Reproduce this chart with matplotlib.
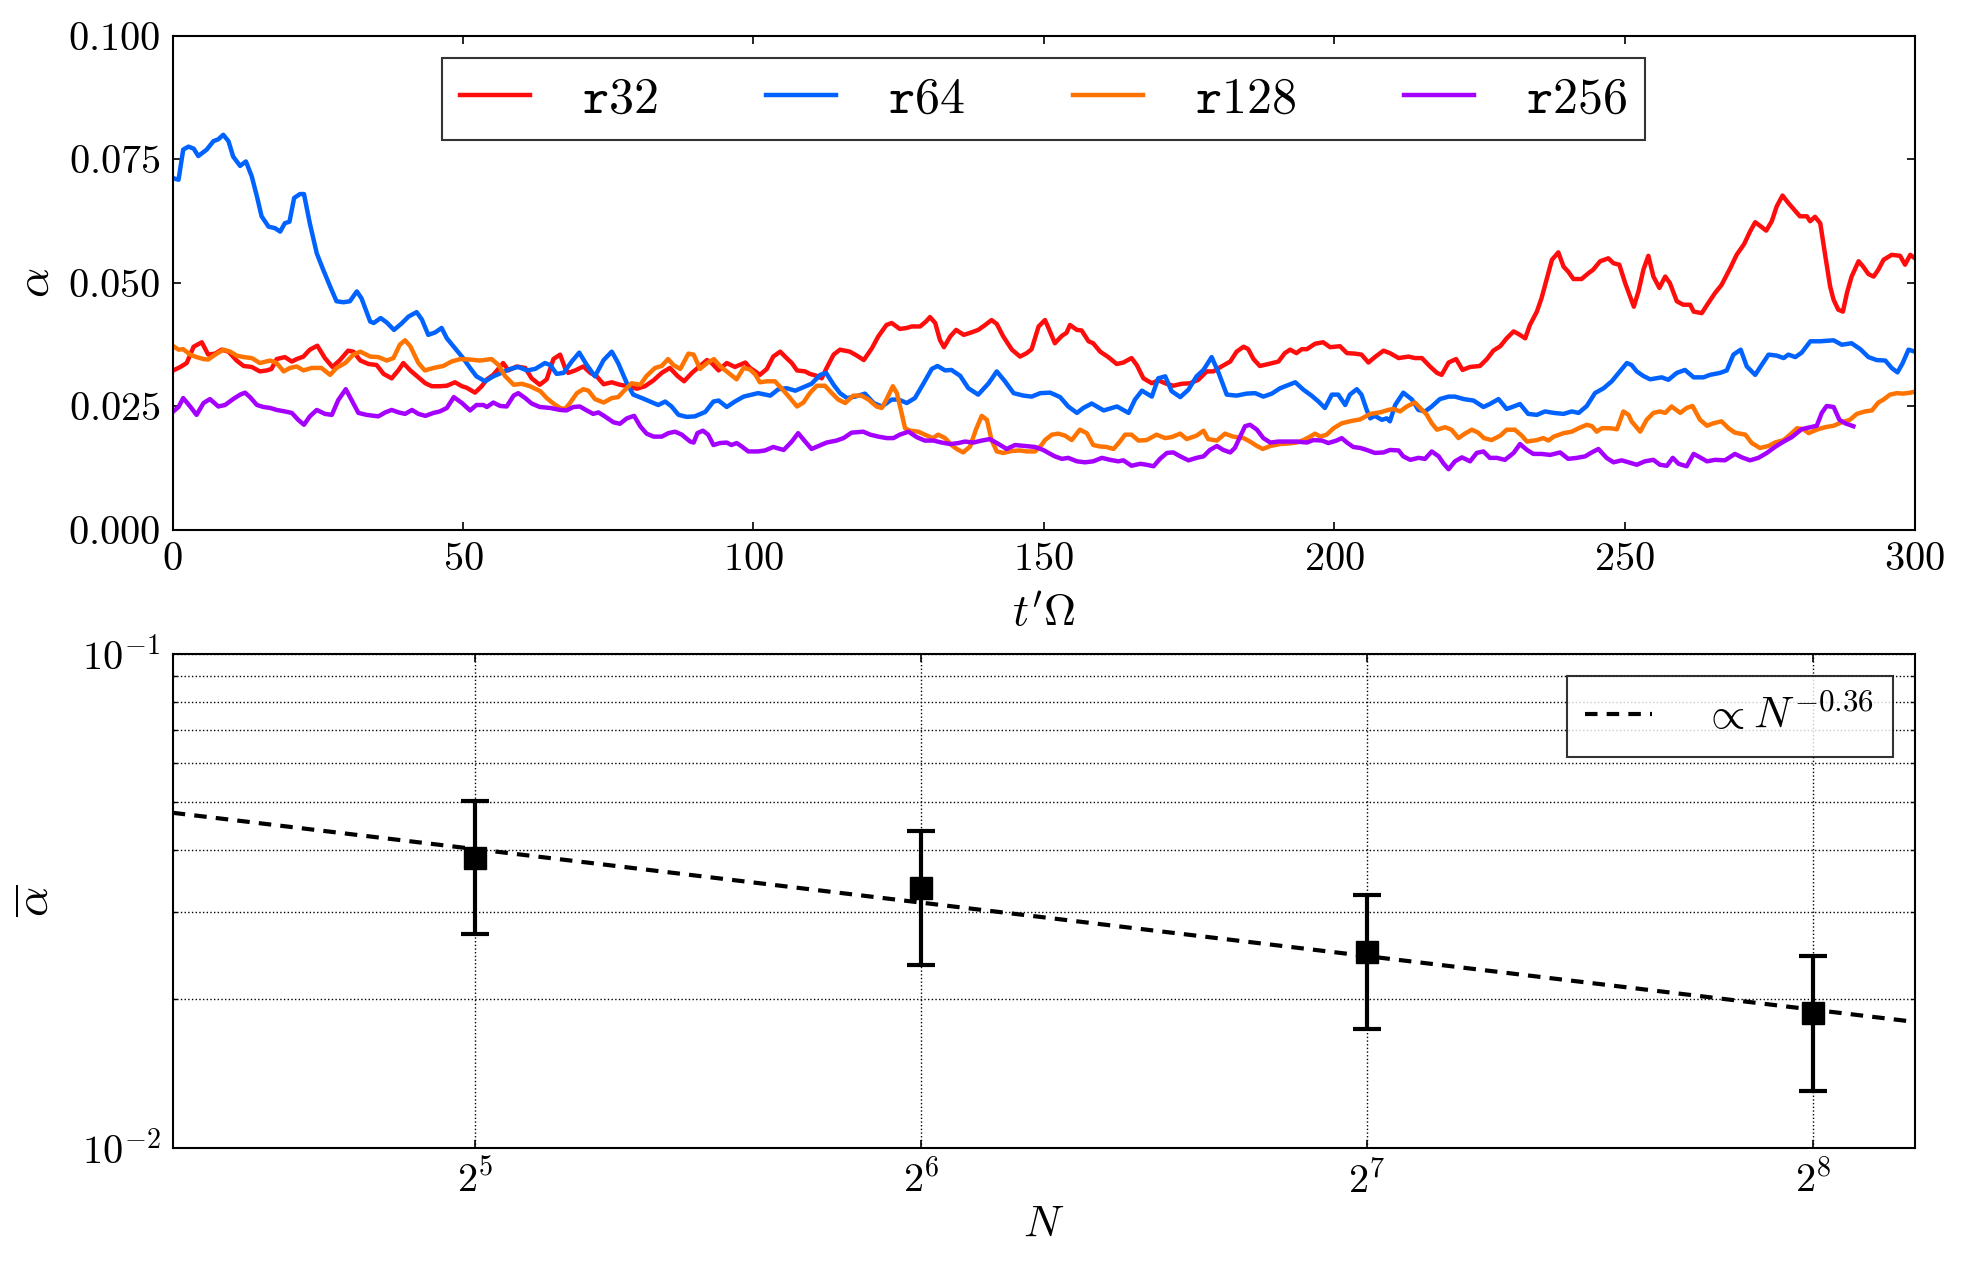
import matplotlib
matplotlib.use('Agg')
import numpy as np
import matplotlib.pyplot as plt
from matplotlib.ticker import FixedLocator, NullFormatter, LogFormatterSciNotation

plt.rcParams['mathtext.fontset'] = 'cm'
plt.rcParams['font.family'] = 'serif'
plt.rcParams['font.serif'] = ['cmr10', 'DejaVu Serif']
plt.rcParams['axes.formatter.use_mathtext'] = True
plt.rcParams['axes.unicode_minus'] = False

# --- serie temporal de alpha (panel superior) ---
r32_t = [0.1, 1.3, 2.4, 3.6, 5.0, 6.1, 7.3, 8.4, 9.6, 11.0, 12.2, 13.6, 15.0, 16.2, 17.0, 17.9, 19.3, 20.5, 21.35, 22.5,
         23.6, 24.9, 26.2, 27.5, 28.8, 30.2, 31.1, 32.3, 33.7, 35.1, 36.3, 37.7, 38.9, 39.7, 40.9, 42.0, 43.5, 44.6, 46.0, 47.2,
         48.6, 49.8, 50.6, 52.05, 53.2, 54.1, 55.2, 56.9, 57.8, 59.2, 60.7, 61.8, 63.2, 64.4, 65.55, 66.7, 67.55, 68.1, 69.3, 70.7,
         71.9, 73.0, 74.2, 75.6, 77.0, 78.5, 79.9, 81.3, 82.8, 84.2, 85.6, 86.9, 88.05, 89.4, 90.8, 92.0, 92.8, 94.0, 95.4, 96.8,
         98.6, 99.4, 100.3, 101.1, 102.3, 103.4, 104.6, 105.7, 106.6, 107.5, 108.9, 109.7, 110.9, 111.75, 112.6, 113.8, 114.9, 116.6, 117.8, 119.0,
         120.4, 121.5, 122.9, 123.8, 125.2, 126.4, 127.25, 128.7, 129.7, 130.4, 131.3, 132.1, 132.8, 133.9, 134.9, 136.2, 137.3, 138.7, 139.9, 141.0,
         141.9, 143.0, 144.5, 145.9, 147.05, 147.9, 149.1, 150.2, 150.8, 151.9, 153.1, 153.9, 154.5, 155.7, 156.5, 157.7, 158.5, 159.7, 161.1, 162.55,
         163.7, 165.1, 166.0, 167.15, 168.6, 169.7, 170.9, 172.3, 173.75, 175.2, 176.6, 178.05, 179.2, 180.6, 182.1, 183.2, 184.4, 185.2, 186.1, 187.2,
         188.7, 190.4, 191.5, 192.4, 193.5, 194.4, 195.3, 196.7, 198.1, 199.3, 201.0, 202.2, 203.6, 204.7, 205.9, 207.0, 208.5, 209.6, 211.1, 212.8,
         213.9, 215.1, 216.5, 217.7, 218.5, 219.7, 221.0, 222.1, 223.4, 225.1, 226.3, 227.4, 228.6, 229.7, 230.9, 231.7, 232.9, 233.7, 234.9, 235.7,
         236.6, 237.5, 238.6, 239.5, 240.3, 241.2, 242.6, 243.8, 244.6, 245.8, 247.2, 248.1, 249.1, 250.1, 250.95, 251.6, 252.4, 253.25, 254.1, 254.97,
         256.0, 257.0, 257.8, 259.0, 260.1, 261.3, 261.9, 263.3, 264.4, 265.6, 266.7, 268.2, 269.3, 270.6, 271.6, 272.5, 273.3, 274.4, 275.35, 276.2,
         277.2, 278.2, 279.1, 280.2, 281.4, 281.95, 282.8, 283.7, 284.5, 285.4, 286.0, 286.8, 287.6, 288.3, 289.1, 290.3, 291.1, 292.0, 292.9, 293.7,
         294.6, 296.0, 297.45, 298.3, 299.2, 300.0]
r32_a = [.0323, .0330, .0338, .0371, .0380, .0355, .0357, .0365, .0361, .0343, .0332, .0330, .0321, .0323, .0326, .0346, .0350, .0341, .0346, .0351,
         .0365, .0373, .0348, .0330, .0344, .0363, .0361, .0343, .0336, .0334, .0316, .0307, .0324, .0338, .0323, .0312, .0297, .0291, .0291, .0292,
         .0299, .0291, .0288, .0278, .0291, .0305, .0314, .0338, .0323, .0331, .0328, .0307, .0294, .0305, .0346, .0355, .0328, .0318, .0323, .0331,
         .0318, .0311, .0295, .0299, .0294, .0291, .0286, .0291, .0303, .0318, .0328, .0312, .0301, .0318, .0332, .0344, .0338, .0323, .0338, .0330,
         .0339, .0328, .0321, .0314, .0326, .0351, .0361, .0348, .0338, .0323, .0321, .0316, .0312, .0307, .0328, .0355, .0365, .0361, .0353, .0344,
         .0368, .0392, .0415, .0419, .0407, .0409, .0412, .0412, .0422, .0431, .0419, .0385, .0370, .0392, .0405, .0395, .0399, .0405, .0415, .0425,
         .0417, .0392, .0365, .0351, .0358, .0366, .0412, .0425, .0409, .0378, .0393, .0399, .0415, .0405, .0404, .0382, .0378, .0361, .0350, .0336,
         .0339, .0348, .0334, .0307, .0297, .0303, .0297, .0292, .0296, .0297, .0304, .0321, .0321, .0331, .0341, .0361, .0371, .0366, .0346, .0332,
         .0336, .0341, .0358, .0365, .0358, .0366, .0366, .0377, .0380, .0370, .0372, .0358, .0357, .0355, .0339, .0350, .0363, .0358, .0348, .0351,
         .0348, .0348, .0331, .0318, .0314, .0339, .0346, .0324, .0330, .0332, .0346, .0363, .0372, .0388, .0402, .0397, .0388, .0415, .0442, .0469,
         .0508, .0547, .0562, .0533, .0523, .0508, .0508, .0520, .0527, .0544, .0550, .0540, .0537, .0500, .0473, .0452, .0483, .0527, .0555, .0513,
         .0490, .0513, .0500, .0463, .0456, .0456, .0442, .0439, .0459, .0480, .0496, .0530, .0557, .0579, .0604, .0623, .0616, .0606, .0625, .0655,
         .0677, .0662, .0650, .0635, .0635, .0625, .0634, .0621, .0560, .0493, .0466, .0446, .0442, .0480, .0513, .0544, .0533, .0518, .0513, .0527,
         .0547, .0557, .0555, .0537, .0557, .0550]

r64_t = [0.1, 1.0, 1.8, 2.7, 3.6, 4.4, 5.85, 7.0, 7.86, 8.7, 9.6, 10.4, 11.6, 12.6, 13.6, 14.5, 15.3, 16.5, 17.6, 18.5,
         19.3, 20.1, 20.9, 21.9, 22.6, 23.6, 24.8, 25.9, 27.1, 28.2, 29.4, 30.5, 31.7, 32.5, 34.0, 34.6, 35.8, 36.85, 38.1, 39.4,
         40.6, 42.0, 42.9, 44.0, 45.2, 46.3, 47.2, 48.6, 50.0, 51.2, 52.3, 53.8, 55.2, 56.6, 58.1, 59.5, 61.0, 62.4, 64.1, 65.0,
         66.1, 67.3, 68.7, 70.0, 71.3, 72.7, 74.2, 75.6, 76.7, 78.2, 79.3, 80.8, 82.2, 83.6, 84.8, 85.9, 87.1, 88.5, 89.9, 91.7,
         93.1, 94.0, 95.4, 96.8, 98.3, 99.7, 100.8, 102.9, 104.3, 105.7, 107.2, 108.6, 110.0, 111.5, 112.5, 113.8, 114.9, 116.1, 117.5, 119.2,
         120.7, 122.1, 123.8, 125.0, 126.4, 127.8, 129.3, 130.7, 131.7, 133.0, 134.1, 135.6, 137.0, 138.7, 140.5, 141.9, 143.3, 144.8, 146.5, 147.9,
         149.4, 151.1, 152.8, 154.2, 155.7, 156.8, 158.25, 160.3, 162.6, 164.6, 165.7, 166.9, 168.6, 169.7, 170.9, 172.0, 173.5, 174.9, 176.3, 177.5,
         178.9, 180.1, 181.5, 183.2, 184.9, 186.4, 187.8, 189.25, 190.7, 193.3, 194.7, 196.1, 197.3, 198.4, 199.6, 200.7, 201.9, 202.7, 203.9, 204.7,
         205.6, 206.2, 207.0, 208.2, 209.05, 209.6, 210.5, 211.9, 213.4, 214.5, 215.65, 216.8, 218.2, 219.7, 220.8, 222.3, 224.0, 225.7, 226.8, 228.3,
         229.7, 230.9, 232.0, 233.4, 234.9, 236.3, 237.8, 239.5, 240.9, 242.1, 243.5, 244.9, 246.4, 247.8, 249.0, 250.4, 251.2, 252.1, 253.2, 254.4,
         256.4, 257.55, 259.0, 260.4, 261.9, 263.6, 264.7, 266.45, 267.6, 268.75, 270.0, 271.05, 272.5, 273.6, 274.8, 276.2, 277.4, 278.2, 279.4, 280.5,
         282.0, 283.7, 286.0, 287.4, 289.1, 290.6, 292.0, 293.4, 294.9, 296.0, 297.0, 297.9, 298.9, 300.0]
r64_a = [.0712, .0709, .0770, .0776, .0772, .0757, .0770, .0787, .0791, .0800, .0787, .0756, .0737, .0746, .0716, .0675, .0635, .0614, .0611, .0604,
         .0621, .0624, .0672, .0680, .0680, .0621, .0560, .0527, .0493, .0463, .0461, .0463, .0483, .0469, .0422, .0419, .0429, .0420, .0405, .0418,
         .0432, .0441, .0426, .0395, .0400, .0409, .0388, .0368, .0348, .0328, .0311, .0301, .0311, .0318, .0326, .0330, .0323, .0326, .0338, .0334,
         .0316, .0318, .0341, .0359, .0334, .0311, .0344, .0361, .0338, .0297, .0274, .0267, .0260, .0253, .0260, .0250, .0233, .0229, .0230, .0239,
         .0260, .0262, .0249, .0260, .0270, .0274, .0277, .0272, .0285, .0287, .0282, .0289, .0296, .0314, .0318, .0294, .0277, .0267, .0270, .0276,
         .0257, .0250, .0264, .0264, .0257, .0267, .0297, .0326, .0332, .0323, .0324, .0312, .0287, .0274, .0297, .0321, .0301, .0277, .0272, .0270,
         .0277, .0278, .0269, .0250, .0237, .0247, .0256, .0242, .0250, .0237, .0264, .0282, .0270, .0307, .0311, .0281, .0269, .0284, .0311, .0324,
         .0350, .0318, .0274, .0272, .0276, .0277, .0270, .0276, .0287, .0299, .0284, .0272, .0260, .0247, .0274, .0274, .0253, .0274, .0285, .0274,
         .0243, .0226, .0231, .0223, .0226, .0220, .0253, .0278, .0264, .0243, .0240, .0250, .0265, .0270, .0270, .0265, .0262, .0249, .0255, .0265,
         .0245, .0250, .0255, .0235, .0233, .0240, .0237, .0235, .0240, .0237, .0251, .0277, .0287, .0301, .0318, .0338, .0334, .0321, .0312, .0305,
         .0309, .0304, .0318, .0324, .0309, .0309, .0314, .0318, .0323, .0355, .0365, .0331, .0314, .0334, .0355, .0353, .0348, .0355, .0350, .0359,
         .0382, .0382, .0384, .0375, .0378, .0366, .0350, .0344, .0343, .0328, .0319, .0338, .0365, .0361]

r128_t = [0.1, 1.0, 1.8, 3.0, 4.1, 5.3, 6.1, 7.3, 8.7, 9.9, 11.0, 12.2, 13.6, 15.0, 16.8, 17.9, 19.1, 20.2, 21.35, 22.5,
          23.9, 25.6, 27.1, 28.2, 29.7, 31.1, 32.3, 34.0, 35.4, 36.85, 38.0, 39.1, 40.0, 40.9, 42.3, 43.4, 44.9, 46.6, 48.0, 49.5,
          51.2, 52.9, 54.9, 56.1, 57.2, 58.7, 60.1, 61.5, 63.3, 64.4, 65.55, 66.7, 67.55, 68.4, 69.6, 70.7, 71.6, 72.7, 74.2, 75.6,
          76.7, 77.9, 79.0, 80.5, 81.6, 83.05, 84.2, 85.3, 86.2, 87.4, 88.8, 89.7, 90.8, 92.0, 93.2, 94.3, 95.7, 97.1, 98.3, 99.4,
          100.3, 101.1, 102.3, 103.7, 105.2, 106.3, 107.5, 108.6, 109.7, 110.9, 112.3, 113.5, 114.6, 115.8, 117.2, 118.6, 119.8, 121.2, 122.1, 122.9,
          124.0, 124.7, 125.5, 126.1, 126.96, 128.4, 129.5, 130.9, 131.8, 133.0, 134.1, 135.0, 136.1, 137.3, 138.3, 139.3, 140.2, 141.0, 141.9, 143.0,
          144.5, 145.9, 147.05, 148.5, 149.6, 150.2, 151.4, 152.5, 153.65, 154.8, 156.2, 157.4, 158.5, 159.7, 160.8, 162.0, 163.1, 164.0, 165.1, 166.3,
          167.7, 169.4, 170.9, 172.0, 173.5, 174.6, 176.3, 177.5, 178.3, 179.8, 181.2, 182.6, 184.4, 185.5, 186.7, 187.7, 189.0, 190.7, 192.1, 193.55,
          194.7, 195.85, 196.7, 197.6, 198.7, 199.9, 201.3, 202.7, 204.5, 206.2, 207.9, 209.3, 210.2, 211.35, 212.5, 213.9, 214.8, 215.9, 216.8, 217.7,
          219.1, 220.2, 221.4, 222.5, 223.7, 224.8, 225.8, 227.1, 228.6, 229.7, 231.1, 232.3, 233.2, 234.9, 236.0, 236.9, 237.8, 239.5, 240.9, 242.1,
          243.5, 244.4, 245.2, 246.1, 247.5, 248.7, 249.8, 250.7, 251.2, 252.7, 253.8, 254.97, 256.1, 257.0, 258.1, 259.6, 260.7, 261.7, 263.0, 264.2,
          265.3, 266.7, 267.9, 269.0, 270.8, 271.9, 273.3, 274.8, 275.9, 277.4, 278.5, 279.7, 280.8, 281.7, 283.1, 284.5, 286.0, 287.4, 288.8, 290.0,
          291.4, 292.6, 293.7, 294.6, 295.7, 296.9, 298.0, 299.2, 300.0]
r128_a = [.0372, .0365, .0366, .0355, .0350, .0346, .0345, .0355, .0365, .0361, .0353, .0350, .0348, .0338, .0343, .0338, .0321, .0328, .0331, .0323,
          .0328, .0328, .0314, .0328, .0338, .0355, .0361, .0351, .0350, .0343, .0348, .0375, .0384, .0372, .0338, .0323, .0328, .0332, .0341, .0346,
          .0345, .0343, .0346, .0334, .0312, .0294, .0296, .0291, .0281, .0267, .0256, .0247, .0245, .0257, .0277, .0285, .0282, .0265, .0258, .0267,
          .0269, .0284, .0297, .0294, .0312, .0328, .0332, .0346, .0334, .0326, .0357, .0355, .0326, .0338, .0346, .0331, .0318, .0305, .0328, .0325,
          .0315, .0299, .0301, .0301, .0282, .0267, .0250, .0258, .0277, .0292, .0292, .0277, .0264, .0257, .0272, .0272, .0264, .0250, .0247, .0264,
          .0291, .0277, .0237, .0206, .0201, .0199, .0193, .0186, .0193, .0186, .0172, .0164, .0157, .0169, .0203, .0231, .0223, .0182, .0159, .0156,
          .0160, .0161, .0159, .0159, .0172, .0182, .0193, .0195, .0191, .0182, .0203, .0196, .0172, .0169, .0168, .0164, .0179, .0193, .0193, .0181,
          .0182, .0193, .0186, .0188, .0195, .0184, .0191, .0201, .0184, .0181, .0195, .0189, .0186, .0179, .0170, .0164, .0170, .0174, .0175, .0177,
          .0182, .0189, .0195, .0189, .0193, .0206, .0216, .0220, .0224, .0235, .0238, .0243, .0245, .0240, .0250, .0258, .0247, .0234, .0216, .0203,
          .0208, .0203, .0186, .0195, .0203, .0197, .0186, .0182, .0191, .0203, .0203, .0191, .0179, .0182, .0186, .0181, .0189, .0196, .0199, .0206,
          .0213, .0210, .0199, .0206, .0206, .0204, .0240, .0233, .0220, .0199, .0223, .0237, .0240, .0237, .0250, .0237, .0247, .0251, .0223, .0211,
          .0216, .0220, .0206, .0197, .0193, .0176, .0166, .0170, .0177, .0182, .0193, .0206, .0204, .0196, .0203, .0208, .0211, .0218, .0223, .0235,
          .0240, .0242, .0258, .0264, .0274, .0277, .0276, .0278, .0280]

r256_t = [0.1, 1.0, 1.8, 3.0, 4.1, 5.3, 6.4, 7.86, 9.0, 10.4, 11.6, 12.45, 13.3, 14.5, 15.6, 16.8, 17.9, 19.3, 20.5, 21.6,
          22.6, 23.6, 24.8, 26.2, 27.4, 28.5, 29.8, 30.8, 31.97, 33.4, 35.4, 36.6, 37.7, 38.9, 40.0, 41.2, 42.3, 43.5, 44.9, 46.0,
          47.2, 48.4, 49.8, 51.2, 52.3, 53.5, 54.1, 55.2, 56.4, 57.5, 58.7, 59.5, 60.7, 61.8, 63.2, 65.0, 66.7, 67.8, 69.0, 70.1,
          71.3, 72.4, 73.3, 74.4, 75.9, 77.0, 78.2, 79.45, 80.5, 81.6, 82.8, 84.2, 85.35, 86.5, 87.65, 89.1, 89.7, 90.35, 91.3, 92.2,
          93.1, 94.25, 95.4, 96.2, 97.1, 98.0, 99.1, 100.8, 102.0, 103.4, 105.2, 106.6, 107.7, 108.9, 110.0, 111.2, 112.6, 114.3, 115.5, 116.9,
          118.9, 120.1, 121.5, 122.95, 124.1, 125.2, 126.7, 128.1, 129.5, 131.0, 132.4, 133.9, 135.3, 136.4, 137.9, 139.3, 140.7, 142.2, 143.6, 145.05,
          146.8, 148.5, 149.9, 150.8, 151.9, 153.1, 154.2, 155.7, 157.1, 158.5, 160.0, 161.4, 162.8, 163.7, 165.1, 166.6, 167.7, 168.9, 170.0, 171.2,
          172.3, 173.5, 174.9, 176.3, 177.5, 178.6, 179.8, 180.9, 182.1, 182.9, 183.8, 184.65, 185.5, 186.7, 187.8, 189.0, 190.4, 191.8, 193.55, 195.3,
          196.4, 197.9, 199.0, 200.4, 201.3, 202.2, 203.3, 204.5, 205.6, 207.0, 208.5, 209.6, 211.1, 211.9, 213.1, 214.5, 215.65, 216.8, 218.0, 218.8,
          219.7, 220.8, 222.0, 223.4, 224.55, 225.7, 226.8, 228.0, 229.4, 230.9, 232.0, 233.2, 234.3, 235.7, 237.2, 238.9, 240.3, 241.8, 243.2, 244.35,
          245.5, 246.9, 248.1, 249.5, 250.7, 252.1, 253.5, 254.97, 256.1, 257.3, 258.3, 259.3, 260.7, 261.9, 263.0, 264.2, 265.6, 267.3, 269.0, 270.2,
          271.6, 273.05, 274.5, 275.9, 277.4, 278.8, 280.5, 281.95, 283.1, 283.96, 284.8, 286.0, 287.0, 288.0, 289.4]
r256_a = [.0240, .0249, .0267, .0250, .0233, .0257, .0265, .0250, .0253, .0265, .0274, .0278, .0269, .0253, .0249, .0247, .0243, .0240, .0237, .0223,
          .0213, .0230, .0243, .0235, .0233, .0263, .0285, .0263, .0237, .0233, .0230, .0238, .0243, .0238, .0235, .0243, .0235, .0231, .0237, .0240,
          .0247, .0269, .0257, .0242, .0253, .0253, .0249, .0258, .0251, .0250, .0272, .0277, .0267, .0256, .0249, .0247, .0243, .0242, .0249, .0250,
          .0242, .0235, .0238, .0230, .0218, .0215, .0226, .0231, .0210, .0195, .0189, .0189, .0196, .0199, .0193, .0179, .0177, .0196, .0201, .0193,
          .0172, .0176, .0177, .0172, .0176, .0169, .0159, .0159, .0161, .0168, .0162, .0179, .0196, .0179, .0164, .0170, .0177, .0181, .0186, .0197,
          .0199, .0193, .0189, .0186, .0186, .0193, .0199, .0188, .0181, .0181, .0177, .0174, .0176, .0179, .0177, .0181, .0184, .0174, .0164, .0172,
          .0170, .0168, .0162, .0156, .0149, .0144, .0146, .0139, .0137, .0139, .0146, .0142, .0139, .0141, .0130, .0134, .0132, .0129, .0144, .0156,
          .0157, .0149, .0141, .0146, .0149, .0162, .0170, .0162, .0157, .0166, .0189, .0210, .0213, .0203, .0186, .0177, .0179, .0179, .0179, .0177,
          .0182, .0181, .0176, .0181, .0186, .0177, .0168, .0166, .0162, .0156, .0157, .0162, .0161, .0149, .0142, .0146, .0144, .0159, .0149, .0135,
          .0123, .0139, .0147, .0139, .0156, .0159, .0146, .0146, .0142, .0156, .0174, .0162, .0154, .0154, .0152, .0157, .0144, .0146, .0149, .0157,
          .0164, .0146, .0137, .0141, .0137, .0132, .0139, .0142, .0132, .0130, .0146, .0134, .0129, .0154, .0147, .0139, .0142, .0141, .0154, .0147,
          .0141, .0146, .0156, .0168, .0179, .0188, .0204, .0208, .0211, .0237, .0251, .0249, .0223, .0216, .0210]

run_labels = [r'$\mathtt{r32}$', r'$\mathtt{r64}$', r'$\mathtt{r128}$', r'$\mathtt{r256}$']
run_colors = ['#ff0d0d', '#0062ff', '#ff7400', '#a500ff']

# --- alpha medio vs resolucion (panel inferior) ---
N_res = [32, 64, 128, 256]
alpha_mean = [0.0386, 0.0336, 0.0249, 0.0187]
alpha_err = [0.0116, 0.0102, 0.0075, 0.0057]
fit_amp = 0.14
fit_exp = -0.36
N_range = [20, 300]

fig = plt.figure(figsize=(19.63, 12.67), dpi=100)
ax1 = fig.add_axes([0.088, 0.5817, 0.8875, 0.3899])
ax2 = fig.add_axes([0.088, 0.0943, 0.8875, 0.3898])

series = [(r32_t, r32_a), (r64_t, r64_a), (r128_t, r128_a), (r256_t, r256_a)]
for (t, a), lab, col in zip(series, run_labels, run_colors):
    ax1.plot(t, a, color=col, lw=3.2, label=lab)

ax1.set_xlim(0, 300)
ax1.set_ylim(0, 0.1)
ax1.set_xticks([0, 50, 100, 150, 200, 250, 300])
ax1.set_yticks([0, 0.025, 0.05, 0.075, 0.1])
ax1.set_xlabel(r"$t'\Omega$", fontsize=32)
ax1.set_ylabel(r'$\alpha$', fontsize=34)
ax1.xaxis.set_label_coords(0.5, -0.132)
ax1.yaxis.set_label_coords(-0.066, 0.5)
leg1 = ax1.legend(loc='upper center', ncol=4, fontsize=36, frameon=True, fancybox=False,
                  handlelength=1.4, handletextpad=1.04, columnspacing=2.16,
                  borderpad=0.36, borderaxespad=0.45)
leg1.get_frame().set_edgecolor('k')
leg1.get_frame().set_linewidth(1.5)

# panel inferior
ax2.set_xscale('log', base=2)
ax2.set_yscale('log')
Nf = np.array(N_range, dtype=float)
ax2.plot(Nf, fit_amp * Nf ** fit_exp, color='k', lw=3, ls=(0, (3.0, 2.2)),
         label=r'$\propto N^{%.2f}$' % fit_exp, zorder=2)
ax2.errorbar(N_res, alpha_mean, yerr=alpha_err, fmt='s', color='k', ms=15.5,
             elinewidth=3, capsize=10, capthick=3, zorder=3)
ax2.set_xlim(N_range)
ax2.set_ylim(1e-2, 1e-1)
ax2.xaxis.set_major_locator(FixedLocator(N_res))
ax2.xaxis.set_major_formatter(LogFormatterSciNotation(base=2))
ax2.xaxis.set_minor_locator(FixedLocator([]))
ax2.yaxis.set_minor_formatter(NullFormatter())
ax2.grid(True, which='major', axis='x', ls=':', color='k', lw=1)
ax2.grid(True, which='both', axis='y', ls=':', color='k', lw=1)
ax2.set_xlabel(r'$N$', fontsize=32)
ax2.set_ylabel(r'$\overline{\alpha}$', fontsize=34)
ax2.xaxis.set_label_coords(0.5, -0.118)
ax2.yaxis.set_label_coords(-0.066, 0.5)
leg2 = ax2.legend(loc='upper right', fontsize=32, frameon=True, fancybox=False,
                  handlelength=1.5, handletextpad=1.15, borderpad=0.42, borderaxespad=0.5)
leg2.get_frame().set_edgecolor('k')
leg2.get_frame().set_linewidth(1.5)

for ax in (ax1, ax2):
    for sp in ax.spines.values():
        sp.set_linewidth(1.5)
    ax.tick_params(which='major', direction='in', top=True, right=True, length=6, width=1.2,
                   labelsize=29, pad=9)
    ax.tick_params(which='minor', direction='in', top=True, right=True, length=3, width=1)

fig.savefig('out.png', dpi=100)
